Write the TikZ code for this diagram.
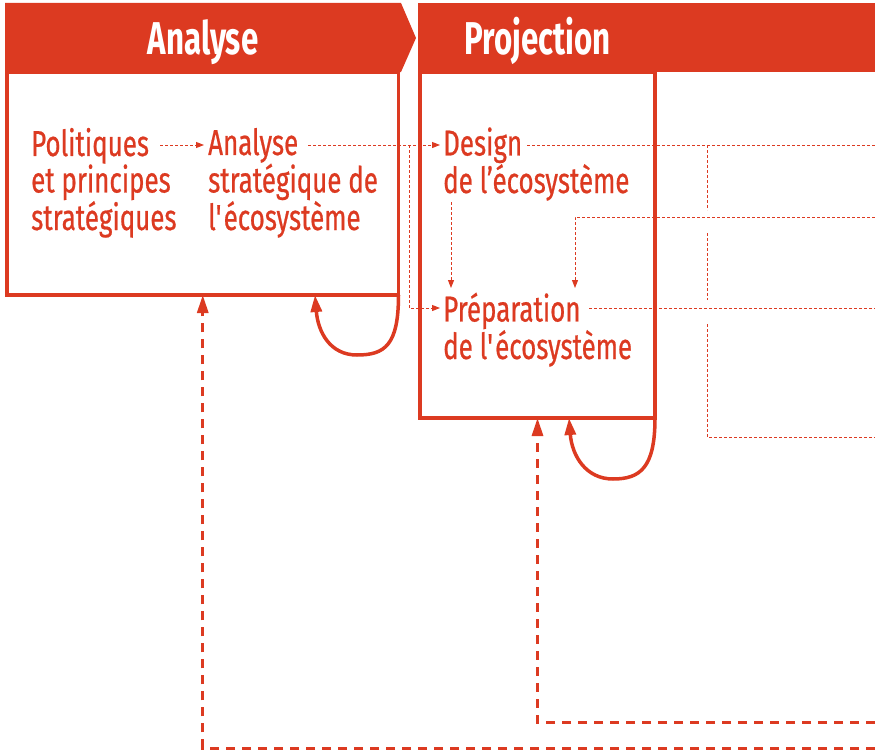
\documentclass[tikz,border=0pt]{standalone}
\usepackage{fontspec}
\setmainfont{Fira Sans}[FakeStretch=0.72, FakeBold=0.6]
\newfontfamily\headfont{Fira Sans}[FakeStretch=0.68]
\usetikzlibrary{arrows.meta}
\definecolor{rd}{RGB}{220,58,33}
\begin{document}
\begin{tikzpicture}[x=1pt,y=-1pt,
  framebox/.style={draw=rd, line width=3.5pt, inner sep=0pt, outer sep=0pt},
  txt/.style={text=rd, font=\fontsize{36}{36.5}\selectfont, align=left, inner sep=0pt, anchor=base west},
  head/.style={text=white, font=\headfont\bfseries\fontsize{46}{46}\selectfont, inner sep=0pt, anchor=base},
  thinline/.style={draw=rd, line width=1pt, dash pattern=on 3pt off 2pt},
  thinarrow/.style={thinline, -{Triangle[length=8pt,width=6pt]}},
  fback/.style={draw=rd, line width=3pt, dash pattern=on 9pt off 7pt, -{Triangle[length=18pt,width=11pt]}},
  selfloop/.style={draw=rd, line width=3.5pt, -{Triangle[length=17pt,width=11pt]}}]
\useasboundingbox (0,0) rectangle (875,752);
% boxes
\node[framebox, minimum width=391.5pt, minimum height=223pt] (boxA) at (202.75,183.5) {};
\node[framebox, minimum width=235pt, minimum height=346pt] (boxP) at (537.5,245) {};
% banners
\fill[rd] (5,3) -- (401,3) -- (416,38) -- (401,72) -- (5,72) -- cycle;
\fill[rd] (418,3) rectangle (875,72);
\node[head] (hA) at (203,55) {Analyse};
\node[head] (hP) at (537.5,55) {Projection};
% texts (anchor = baseline of last line)
\node[txt] (pol) at (31,230) {Politiques\\et principes\\stratégiques};
\node[txt] (ana) at (208,230) {Analyse\\stratégique de\\l\textquotesingle écosystème};
\node[txt] (des) at (443,193) {Design\\de l’écosystème};
\node[txt] (pre) at (443,359) {Préparation\\de l\textquotesingle écosystème};
% ports
\coordinate (polR) at (160,145);
\coordinate (anaL) at (204,145);
\coordinate (anaR) at (308,145);
\coordinate (desL) at (440,145);
\coordinate (split) at (409,145);
\coordinate (preL) at (440,308);
\coordinate (desB) at (451,202);
\coordinate (preT1) at (451,288);
\coordinate (inR) at (875,217);
\coordinate (preT2) at (575,288);
\coordinate (desR) at (527,145);
\coordinate (outD) at (875,145);
\coordinate (preR) at (589,308);
\coordinate (outP) at (875,308);
\coordinate (v1a) at (707,145);
\coordinate (v1b) at (707,210);
\coordinate (v2a) at (707,233);
\coordinate (v2b) at (707,300);
\coordinate (v3a) at (707,324);
\coordinate (outB) at (875,437);
\coordinate (fbA) at (875,748);
\coordinate (fbP) at (875,722);
\coordinate (loopA) at (315,0);
\coordinate (loopP) at (569,0);
% thin connectors
\draw[thinarrow] (polR) -- (anaL);
\draw[thinarrow] (anaR) -- (desL);
\draw[thinarrow] (split) |- (preL);
\draw[thinarrow] (desB) -- (preT1);
\draw[thinarrow] (inR) -| (preT2);
\draw[thinline] (desR) -- (outD);
\draw[thinline] (preR) -- (outP);
\draw[thinline] (v1a) -- (v1b);
\draw[thinline] (v2a) -- (v2b);
\draw[thinline] (v3a) |- (outB);
% self loops
\draw[selfloop] (boxA.south east) .. controls (398.5,345) and (385,355) .. (357,355) .. controls (330,355) and (318,332) .. (boxA.south -| loopA);
\draw[selfloop] (boxP.south east) .. controls (655,468) and (640,479) .. (613,479) .. controls (586,479) and (572,456) .. (boxP.south -| loopP);
% feedback
\draw[fback] (fbA) -| (boxA.south);
\draw[fback] (fbP) -| (boxP.south);
\end{tikzpicture}
\end{document}
